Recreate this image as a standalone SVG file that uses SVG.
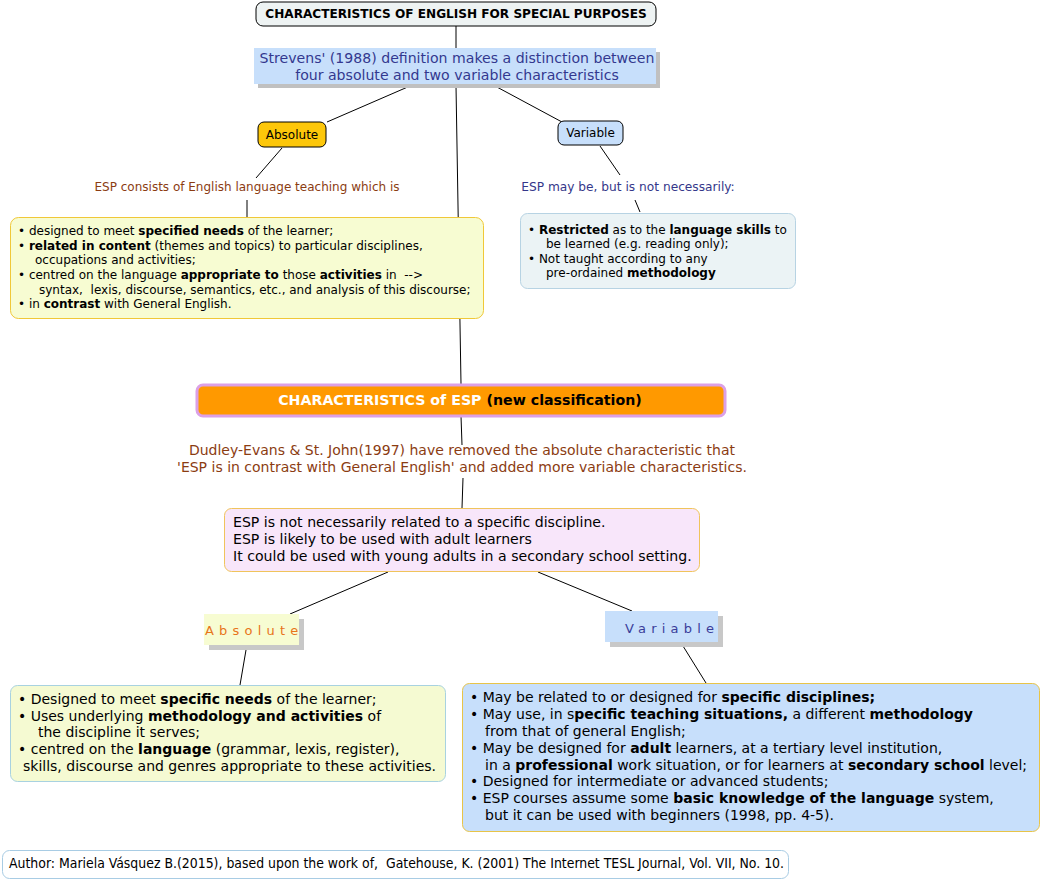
<svg xmlns="http://www.w3.org/2000/svg" width="1042" height="880" viewBox="0 0 1042 880">
<style>
text{font-family:"DejaVu Sans",Verdana,sans-serif;fill:#000}
.b{font-weight:bold}
.c{stroke:#000;stroke-width:1;fill:none}
.t12{font-size:12px}
.t14{font-size:14px}
</style>
<rect width="1042" height="880" fill="#fff"/>
<g id="connectors">
<line class="c" x1="456" y1="26" x2="456" y2="48"/>
<line class="c" x1="410" y1="86" x2="327" y2="122"/>
<line class="c" x1="282" y1="148" x2="256" y2="178"/>
<line class="c" x1="247" y1="200" x2="247" y2="217"/>
<line class="c" x1="456" y1="86" x2="461" y2="384"/>
<line class="c" x1="495" y1="86" x2="562" y2="122"/>
<line class="c" x1="600" y1="146" x2="620" y2="175"/>
<line class="c" x1="635" y1="200" x2="640" y2="212"/>
<line class="c" x1="461" y1="416" x2="462" y2="445"/>
<line class="c" x1="463" y1="478" x2="462" y2="508"/>
<line class="c" x1="388" y1="572" x2="290" y2="614"/>
<line class="c" x1="538" y1="572" x2="632" y2="611"/>
<line class="c" x1="246" y1="650" x2="240" y2="685"/>
<line class="c" x1="683" y1="646" x2="706" y2="683"/>
</g>
<g id="title">
<rect x="256" y="2" width="400" height="24" rx="7" fill="#eef3f3" stroke="#000"/>
<text x="456" y="18" text-anchor="middle" class="b" font-size="12.1">CHARACTERISTICS OF ENGLISH FOR SPECIAL PURPOSES</text>
</g>
<g id="definition">
<rect x="258" y="52" width="402" height="36" fill="#c0c0c0"/>
<rect x="254" y="48" width="402" height="36" fill="#c7dffb"/>
<text x="457" y="63" text-anchor="middle" font-size="14.1" style="fill:#33388f">Strevens' (1988) definition makes a distinction between</text>
<text x="457" y="80" text-anchor="middle" font-size="14.1" style="fill:#33388f">four absolute and two variable characteristics</text>
</g>
<g id="absolute1">
<rect x="258" y="122" width="68" height="25" rx="6" fill="#fdc70a" stroke="#000"/>
<text x="292" y="139" text-anchor="middle" font-size="12">Absolute</text>
</g>
<g id="abs-label">
<text x="247" y="191" text-anchor="middle" font-size="12" style="fill:#8b3c12">ESP consists of English language teaching which is</text>
</g>
<g id="abs-box1">
<rect x="10.5" y="217.5" width="473" height="101" rx="8" fill="#f7fcd2" stroke="#f0c838"/>
<g class="t12">
<text x="18" y="235">• designed to meet <tspan class="b">specified needs</tspan> of the learner;</text>
<text x="18" y="250">• <tspan class="b">related in content</tspan> (themes and topics) to particular disciplines,</text>
<text x="35" y="264">occupations and activities;</text>
<text x="18" y="279" xml:space="preserve">• centred on the language <tspan class="b">appropriate to</tspan> those <tspan class="b">activities</tspan> in  --&gt;</text>
<text x="39" y="294" xml:space="preserve">syntax,  lexis, discourse, semantics, etc., and analysis of this discourse;</text>
<text x="18" y="308">• in <tspan class="b">contrast</tspan> with General English.</text>
</g>
</g>
<g id="variable1">
<rect x="558" y="121" width="65" height="24" rx="6" fill="#c7dffb" stroke="#000"/>
<text x="590.5" y="137" text-anchor="middle" font-size="12">Variable</text>
</g>
<g id="var-label">
<text x="628" y="191" text-anchor="middle" font-size="12.2" style="fill:#35378a">ESP may be, but is not necessarily:</text>
</g>
<g id="var-box1">
<rect x="520.5" y="213.5" width="275" height="75" rx="7" fill="#ebf3f5" stroke="#b7d3e3"/>
<g class="t12">
<text x="528" y="234">• <tspan class="b">Restricted</tspan> as to the <tspan class="b">language skills</tspan> to</text>
<text x="546" y="248">be learned (e.g. reading only);</text>
<text x="528" y="263">• Not taught according to any</text>
<text x="546" y="277">pre-ordained <tspan class="b">methodology</tspan></text>
</g>
</g>
<g id="new-class">
<rect x="197" y="385" width="528" height="31" rx="6" fill="#ff9900" stroke="#dca0e6" stroke-width="3"/>
<text x="460" y="405" text-anchor="middle" class="b" font-size="14.2"><tspan style="fill:#fff">CHARACTERISTICS of ESP</tspan> (new classification)</text>
</g>
<g id="dudley">
<text x="462" y="455" text-anchor="middle" class="t14" style="fill:#8b3c12">Dudley-Evans &amp; St. John(1997) have removed the absolute characteristic that</text>
<text x="462" y="472" text-anchor="middle" class="t14" style="fill:#8b3c12">'ESP is in contrast with General English' and added more variable characteristics.</text>
</g>
<g id="esp-box">
<rect x="224.5" y="508.5" width="475" height="63" rx="7" fill="#f8e6fa" stroke="#f0c45c"/>
<g font-size="14.1">
<text x="233" y="527">ESP is not necessarily related to a specific discipline.</text>
<text x="233" y="544">ESP is likely to be used with adult learners</text>
<text x="233" y="561">It could be used with young adults in a secondary school setting.</text>
</g>
</g>
<g id="absolute2">
<rect x="209" y="619" width="95" height="31" fill="#c8c8c8"/>
<rect x="204" y="614" width="95" height="31" fill="#f7fcd2"/>
<text x="205" y="635" font-size="13" letter-spacing="5.2" style="fill:#e8741a">Absolute</text>
</g>
<g id="abs-box2">
<rect x="10.5" y="685.5" width="435" height="96" rx="7" fill="#f5fad2" stroke="#a8d2e0"/>
<g class="t14">
<text x="18" y="704">• Designed to meet <tspan class="b">specific needs</tspan> of the learner;</text>
<text x="18" y="721">• Uses underlying <tspan class="b">methodology and activities</tspan> of</text>
<text x="38" y="737">the discipline it serves;</text>
<text x="18" y="754">• centred on the <tspan class="b">language</tspan> (grammar, lexis, register),</text>
<text x="23" y="771">skills, discourse and genres appropriate to these activities.</text>
</g>
</g>
<g id="variable2">
<rect x="610" y="616" width="113" height="31" fill="#c8c8c8"/>
<rect x="605" y="611" width="113" height="31" fill="#c7dffb"/>
<text x="625" y="633" font-size="13" letter-spacing="5.2" style="fill:#3a3d9a">Variable</text>
</g>
<g id="var-box2">
<rect x="462.5" y="683.5" width="577" height="148" rx="7" fill="#c7dffb" stroke="#e8c448"/>
<g class="t14">
<text x="470" y="702">• May be related to or designed for <tspan class="b">specific disciplines;</tspan></text>
<text x="470" y="719">• May use, in s<tspan class="b">pecific teaching situations,</tspan> a different <tspan class="b">methodology</tspan></text>
<text x="485" y="736">from that of general English;</text>
<text x="470" y="753">• May be designed for <tspan class="b">adult</tspan> learners, at a tertiary level institution,</text>
<text x="485" y="770">in a <tspan class="b">professional</tspan> work situation, or for learners at <tspan class="b">secondary school</tspan> level;</text>
<text x="470" y="786">• Designed for intermediate or advanced students;</text>
<text x="470" y="803">• ESP courses assume some <tspan class="b">basic knowledge of the language</tspan> system,</text>
<text x="485" y="820">but it can be used with beginners (1998, pp. 4-5).</text>
</g>
</g>
<g id="footer">
<rect x="2.5" y="850.5" width="786" height="28" rx="7" fill="#fff" stroke="#a8cce4"/>
<text x="9" y="868" font-size="13.5" textLength="775" lengthAdjust="spacingAndGlyphs" style="font-family:'DejaVu Sans Condensed','DejaVu Sans',sans-serif" xml:space="preserve">Author: Mariela Vásquez B.(2015), based upon the work of,  Gatehouse, K. (2001) The Internet TESL Journal, Vol. VII, No. 10.</text>
</g>
</svg>
